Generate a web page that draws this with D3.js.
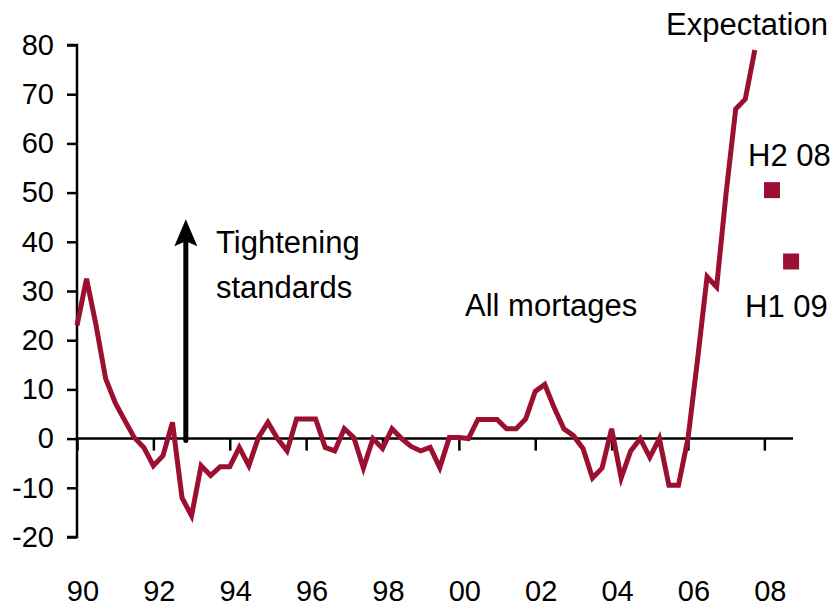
<!DOCTYPE html>
<html>
<head>
<meta charset="utf-8">
<script src="https://cdn.jsdelivr.net/npm/d3@7"></script>
<style>
  body { margin: 0; background: #fff; }
  svg { display: block; font-family: "Liberation Sans", Arial, sans-serif; }
</style>
</head>
<body>
<svg id="chart" width="836" height="608"></svg>
<script>
// quarterly net % of banks tightening, 1990 Q1 - 2007 Q4
var startYear = 1990;
var mortgages = [
  23, 32.5, 23, 12.2, 7.3, 3.7, 0.2, -1.8,
  -5.5, -3.5, 3.3, -12, -15.7, -5.5, -7.5, -5.7,
  -5.7, -1.8, -5.5, 0.2, 3.3, 0, -2.5, 4,
  4, 4, -1.8, -2.5, 2, 0.2, -6, 0,
  -2, 2, 0, -1.6, -2.5, -1.8, -5.9, 0.2,
  0.2, 0, 3.9, 3.9, 3.9, 2, 2, 4,
  9.6, 11, 6.2, 2, 0.6, -2, -8, -6,
  2, -8, -2.5, 0, -3.8, 0, -9.5, -9.5,
  0, 16, 32.9, 30.8, 50, 67, 69, 79
];
// expectation points
var expLabels = ["H2 08", "H1 09"];
var expYears = [2008.2, 2008.7];
var expValues = [50.5, 36];

var yTicks = [80, 70, 60, 50, 40, 30, 20, 10, 0, -10, -20];
var xTicks = [1990, 1992, 1994, 1996, 1998, 2000, 2002, 2004, 2006, 2008];
var xTickLabels = ["90", "92", "94", "96", "98", "00", "02", "04", "06", "08"];

var red = "#9b0f30";
var svg = d3.select('#chart');

var x = d3.scaleLinear().domain([1990, 2008.75]).range([77, 793]);
var y = d3.scaleLinear().domain([-20, 80]).range([537, 45]);

// y axis
var yAxis = svg.append('g')
  .attr('transform', 'translate(' + x(1990) + ',0)')
  .call(d3.axisLeft(y).tickValues(yTicks).tickSize(10).tickPadding(13)
    .tickFormat(function(d) { return String(d); }));
yAxis.select('.domain').attr('d', 'M-10,' + y(80) + 'H0V' + y(-20) + 'H-10')
  .attr('stroke', '#000').attr('stroke-width', 2.5);
yAxis.selectAll('.tick line').attr('stroke', '#000').attr('stroke-width', 2.5);
yAxis.selectAll('.tick text').attr('font-size', 29).attr('fill', '#000')
  .attr('font-family', '"Liberation Sans", Arial, sans-serif');

// x axis at zero
var xAxis = svg.append('g')
  .attr('transform', 'translate(0,' + y(0) + ')')
  .call(d3.axisBottom(x).tickValues(xTicks).tickSize(12).tickFormat(''));
xAxis.select('.domain').attr('d', 'M' + x(1990) + ',0H' + x(2008.75))
  .attr('stroke', '#000').attr('stroke-width', 2.5);
xAxis.selectAll('.tick line').attr('stroke', '#000').attr('stroke-width', 2.5);

svg.append('g').selectAll('text')
  .data(xTicks)
  .enter()
  .append('text')
  .attr('x', function(d) { return x(d) + 6; })
  .attr('y', 601)
  .attr('text-anchor', 'middle')
  .attr('font-size', 29)
  .text(function(d, i) { return xTickLabels[i]; });

// main line
var line = d3.line()
  .x(function(d, i) { return x(startYear + i / 4); })
  .y(function(d) { return y(d); });

svg.append('path')
  .datum(mortgages)
  .attr('d', line)
  .attr('fill', 'none')
  .attr('stroke', red)
  .attr('stroke-width', 5)
  .attr('stroke-linejoin', 'miter');

// expectation markers
svg.append('g').selectAll('rect')
  .data(expValues)
  .enter()
  .append('rect')
  .attr('x', function(d, i) { return x(expYears[i]) - 8; })
  .attr('y', function(d) { return y(d) - 8; })
  .attr('width', 16)
  .attr('height', 16)
  .attr('fill', red);

// arrow: shaft + head
var ax = x(1992.85), aTop = y(45) + 2;
svg.append('line')
  .attr('x1', ax).attr('y1', y(0) + 2)
  .attr('x2', ax).attr('y2', aTop + 20)
  .attr('stroke', '#000')
  .attr('stroke-width', 5)
  .attr('stroke-linecap', 'round');
svg.append('path')
  .attr('d', 'M' + ax + ',' + aTop + 'L' + (ax + 11.5) + ',' + (aTop + 27) +
    'L' + ax + ',' + (aTop + 22) + 'L' + (ax - 11.5) + ',' + (aTop + 27) + 'Z')
  .attr('fill', '#000');

// annotations
var notes = [
  { t: "Tightening", x: 216, y: 253 },
  { t: "standards", x: 216, y: 298 },
  { t: "All mortages", x: 465, y: 316 },
  { t: "Expectation", x: 666, y: 35 },
  { t: "H2 08", x: 748, y: 166 },
  { t: "H1 09", x: 745, y: 317 }
];
svg.append('g').selectAll('text')
  .data(notes)
  .enter()
  .append('text')
  .attr('x', function(d) { return d.x; })
  .attr('y', function(d) { return d.y; })
  .attr('font-size', 31)
  .text(function(d) { return d.t; });
</script>
</body>
</html>
